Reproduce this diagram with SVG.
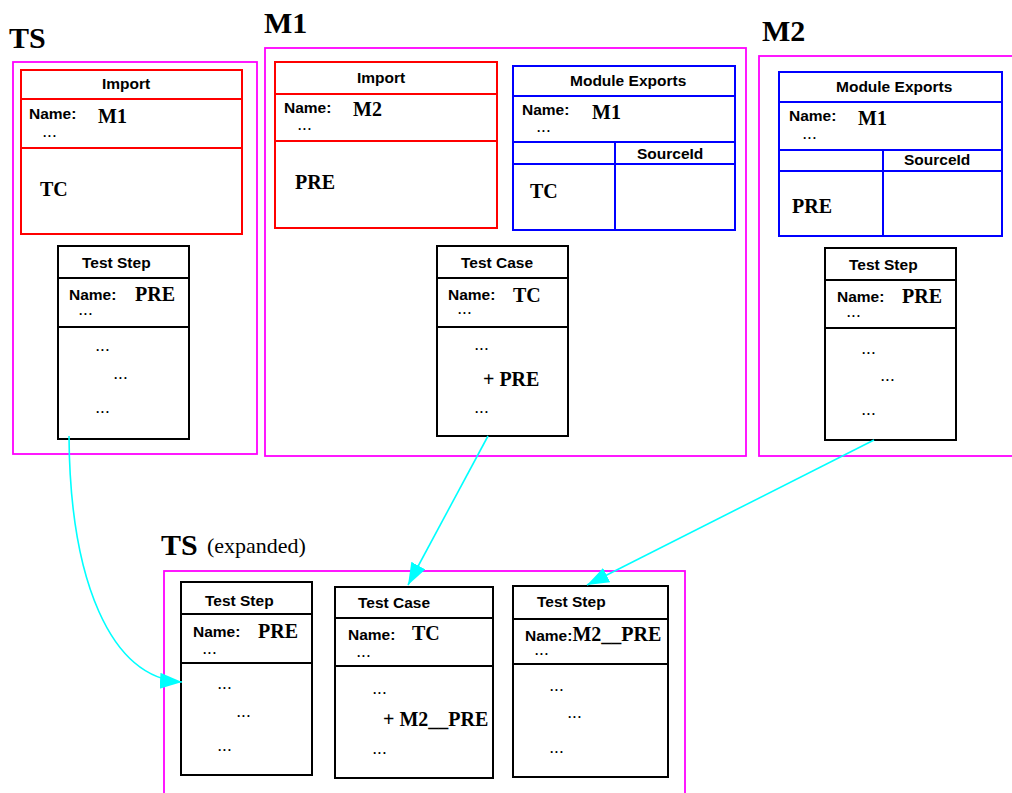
<svg xmlns="http://www.w3.org/2000/svg" width="1012" height="793" viewBox="0 0 1012 793">
<style>
.mg{fill:none;stroke:#ff00ff;stroke-width:1.8}
.rd{fill:none;stroke:#ff0000;stroke-width:2}
.bl{fill:none;stroke:#0000ff;stroke-width:2}
.bk{fill:none;stroke:#000;stroke-width:2}
.ttl{font-family:"Liberation Serif",serif;font-weight:bold;font-size:30px;fill:#000}
.sub{font-family:"Liberation Serif",serif;font-size:22px;fill:#000}
.lb{font-family:"Liberation Sans",Arial,sans-serif;font-weight:bold;font-size:15.5px;fill:#000}
.vl{font-family:"Liberation Serif",serif;font-weight:bold;font-size:20px;fill:#000}
.dt{font-family:"Liberation Sans",Arial,sans-serif;font-weight:bold;font-size:12px;letter-spacing:1.5px;fill:#000}
.cn{fill:none;stroke:#00ffff;stroke-width:1.6}
</style>
<defs>
<marker id="ah" markerUnits="userSpaceOnUse" markerWidth="24" markerHeight="18" refX="22" refY="8" orient="auto">
<path d="M0,0 L22,8 L0,16 z" fill="#00ffff"/>
</marker>
</defs>

<g id="titles">
<text class="ttl" x="9" y="48">TS</text>
<text class="ttl" x="264" y="33">M1</text>
<text class="ttl" x="762" y="41">M2</text>
<text class="ttl" x="161" y="555">TS</text><text class="sub" x="207" y="553">(expanded)</text>
</g>

<g id="ts-container"><rect class="mg" x="13" y="62" width="244" height="392"/></g>
<g id="m1-container"><rect class="mg" x="265" y="48" width="481" height="408"/></g>
<g id="m2-container"><rect class="mg" x="759" y="56" width="270" height="400"/></g>
<g id="tsx-container"><rect class="mg" x="164" y="571" width="521" height="240"/></g>

<g id="ts-import">
<rect class="rd" x="21" y="70" width="221" height="164"/>
<line class="rd" x1="21" y1="99" x2="242" y2="99"/>
<line class="rd" x1="21" y1="148" x2="242" y2="148"/>
<text class="lb" x="102" y="89">Import</text>
<text class="lb" x="29" y="119">Name:</text><text class="vl" x="98" y="123">M1</text>
<text class="dt" x="43" y="137">...</text>
<text class="vl" x="40" y="196">TC</text>
</g>

<g id="ts-teststep">
<rect class="bk" x="58" y="246" width="131" height="193"/>
<line class="bk" x1="58" y1="278" x2="189" y2="278"/>
<line class="bk" x1="58" y1="327" x2="189" y2="327"/>
<text class="lb" x="82" y="268">Test Step</text>
<text class="lb" x="69" y="300">Name:</text><text class="vl" x="135" y="301">PRE</text>
<text class="dt" x="79" y="315">...</text>
<text class="dt" x="96" y="351">...</text>
<text class="dt" x="114" y="379">...</text>
<text class="dt" x="96" y="413">...</text>
</g>

<g id="m1-import">
<rect class="rd" x="275" y="62" width="222" height="166"/>
<line class="rd" x1="275" y1="94" x2="497" y2="94"/>
<line class="rd" x1="275" y1="141" x2="497" y2="141"/>
<text class="lb" x="357" y="83">Import</text>
<text class="lb" x="284" y="113">Name:</text><text class="vl" x="353" y="116">M2</text>
<text class="dt" x="298" y="130">...</text>
<text class="vl" x="295" y="189">PRE</text>
</g>

<g id="m1-exports">
<rect class="bl" x="513" y="66" width="222" height="164"/>
<line class="bl" x1="513" y1="96" x2="735" y2="96"/>
<line class="bl" x1="513" y1="142" x2="735" y2="142"/>
<line class="bl" x1="513" y1="164" x2="735" y2="164"/>
<line class="bl" x1="615" y1="142" x2="615" y2="230"/>
<text class="lb" x="570" y="86">Module Exports</text>
<text class="lb" x="522" y="115">Name:</text><text class="vl" x="592" y="119">M1</text>
<text class="dt" x="537" y="132">...</text>
<text class="lb" x="637" y="159">SourceId</text>
<text class="vl" x="530" y="198">TC</text>
</g>

<g id="m1-testcase">
<rect class="bk" x="437" y="246" width="131" height="190"/>
<line class="bk" x1="437" y1="278" x2="568" y2="278"/>
<line class="bk" x1="437" y1="327" x2="568" y2="327"/>
<text class="lb" x="461" y="268">Test Case</text>
<text class="lb" x="448" y="300">Name:</text><text class="vl" x="513" y="302">TC</text>
<text class="dt" x="458" y="314">...</text>
<text class="dt" x="475" y="350">...</text>
<text class="vl" x="483" y="386">+ PRE</text>
<text class="dt" x="475" y="413">...</text>
</g>

<g id="m2-exports">
<rect class="bl" x="779" y="72" width="223" height="164"/>
<line class="bl" x1="779" y1="102" x2="1002" y2="102"/>
<line class="bl" x1="779" y1="150" x2="1002" y2="150"/>
<line class="bl" x1="779" y1="171" x2="1002" y2="171"/>
<line class="bl" x1="883" y1="150" x2="883" y2="236"/>
<text class="lb" x="836" y="92">Module Exports</text>
<text class="lb" x="789" y="121">Name:</text><text class="vl" x="858" y="125">M1</text>
<text class="dt" x="803" y="139">...</text>
<text class="lb" x="904" y="165">SourceId</text>
<text class="vl" x="792" y="213">PRE</text>
</g>

<g id="m2-teststep">
<rect class="bk" x="825" y="248" width="131" height="192"/>
<line class="bk" x1="825" y1="280" x2="956" y2="280"/>
<line class="bk" x1="825" y1="328" x2="956" y2="328"/>
<text class="lb" x="849" y="270">Test Step</text>
<text class="lb" x="837" y="302">Name:</text><text class="vl" x="902" y="303">PRE</text>
<text class="dt" x="847" y="317">...</text>
<text class="dt" x="862" y="354">...</text>
<text class="dt" x="881" y="381">...</text>
<text class="dt" x="862" y="415">...</text>
</g>

<g id="tsx-teststep">
<rect class="bk" x="181" y="582" width="131" height="193"/>
<line class="bk" x1="181" y1="614" x2="312" y2="614"/>
<line class="bk" x1="181" y1="663" x2="312" y2="663"/>
<text class="lb" x="205" y="606">Test Step</text>
<text class="lb" x="193" y="637">Name:</text><text class="vl" x="258" y="638">PRE</text>
<text class="dt" x="203" y="654">...</text>
<text class="dt" x="218" y="689">...</text>
<text class="dt" x="237" y="717">...</text>
<text class="dt" x="218" y="751">...</text>
</g>

<g id="tsx-testcase">
<rect class="bk" x="335" y="587" width="158" height="191"/>
<line class="bk" x1="335" y1="618" x2="493" y2="618"/>
<line class="bk" x1="335" y1="666" x2="493" y2="666"/>
<text class="lb" x="358" y="608">Test Case</text>
<text class="lb" x="348" y="640">Name:</text><text class="vl" x="412" y="640">TC</text>
<text class="dt" x="357" y="657">...</text>
<text class="dt" x="373" y="694">...</text>
<text class="vl" x="383" y="726">+ M2__PRE</text>
<text class="dt" x="373" y="754">...</text>
</g>

<g id="tsx-teststep2">
<rect class="bk" x="513" y="586" width="155" height="191"/>
<line class="bk" x1="513" y1="619" x2="668" y2="619"/>
<line class="bk" x1="513" y1="664" x2="668" y2="664"/>
<text class="lb" x="537" y="607">Test Step</text>
<text x="525" y="641"><tspan class="lb">Name:</tspan><tspan class="vl">M2__PRE</tspan></text>
<text class="dt" x="535" y="655">...</text>
<text class="dt" x="550" y="691">...</text>
<text class="dt" x="568" y="718">...</text>
<text class="dt" x="550" y="753">...</text>
</g>

<g id="connectors">
<path class="cn" d="M69,436 C70,580 110,678 182,682" marker-end="url(#ah)"/>
<path class="cn" d="M488,436 L408,585" marker-end="url(#ah)"/>
<path class="cn" d="M874,440 L587,585" marker-end="url(#ah)"/>
</g>
</svg>
